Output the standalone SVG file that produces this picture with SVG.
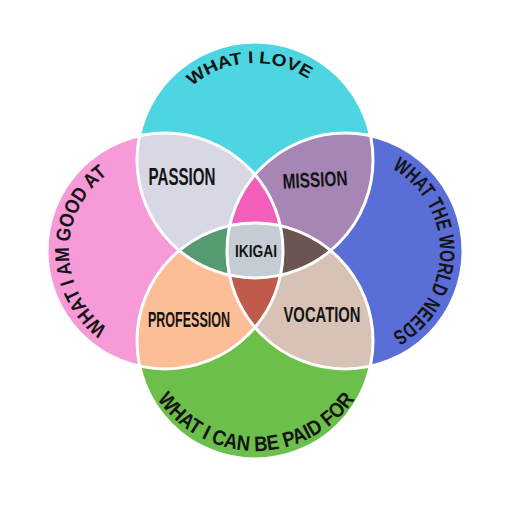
<svg xmlns="http://www.w3.org/2000/svg" xmlns:xlink="http://www.w3.org/1999/xlink" width="512" height="512" viewBox="0 0 512 512">
<style>
.lbl{font-family:"Liberation Sans","DejaVu Sans",sans-serif;font-weight:bold;fill:#141414;text-anchor:middle}
.edge{fill:none;stroke:#ffffff;stroke-width:3}
</style>
<defs>
<circle id="T" cx="255" cy="160" r="118"/>
<circle id="L" cx="165" cy="251" r="118"/>
<circle id="R" cx="345" cy="251" r="118"/>
<circle id="B" cx="255" cy="341" r="118"/>
<clipPath id="cT"><use xlink:href="#T"/></clipPath>
<clipPath id="cL"><use xlink:href="#L"/></clipPath>
<clipPath id="cR"><use xlink:href="#R"/></clipPath>
<clipPath id="cB"><use xlink:href="#B"/></clipPath>
<path id="pTop" d="M158,160 A97,97 0 0 1 352,160"/>
<path id="pLeft" d="M165,347 A96,96 0 0 1 165,155"/>
<path id="pRight" d="M345,156 A95,95 0 0 1 345,346"/>
<path id="pBot" d="M136,331 A120,120 0 0 0 376,331"/>
</defs>
<rect width="512" height="512" fill="#ffffff"/>

<g id="love"><use xlink:href="#T" fill="#4dd5e1"/></g>
<g id="good-at"><use xlink:href="#L" fill="#f79ad8"/></g>
<g id="world-needs"><use xlink:href="#R" fill="#5a6ed8"/></g>
<g id="paid-for"><use xlink:href="#B" fill="#6cbf4a"/></g>

<g id="passion" clip-path="url(#cT)"><use xlink:href="#L" fill="#d8d8e4"/></g>
<g id="mission" clip-path="url(#cT)"><use xlink:href="#R" fill="#a786b6"/></g>
<g id="profession" clip-path="url(#cB)"><use xlink:href="#L" fill="#fcbe97"/></g>
<g id="vocation" clip-path="url(#cB)"><use xlink:href="#R" fill="#d8c2b6"/></g>

<g id="tlr" clip-path="url(#cT)"><g clip-path="url(#cL)"><use xlink:href="#R" fill="#f35ebb"/></g></g>
<g id="tlb" clip-path="url(#cT)"><g clip-path="url(#cL)"><use xlink:href="#B" fill="#559a70"/></g></g>
<g id="trb" clip-path="url(#cT)"><g clip-path="url(#cR)"><use xlink:href="#B" fill="#6a5550"/></g></g>
<g id="lrb" clip-path="url(#cL)"><g clip-path="url(#cR)"><use xlink:href="#B" fill="#c05a4b"/></g></g>
<g id="ikigai" clip-path="url(#cT)"><g clip-path="url(#cL)"><g clip-path="url(#cR)"><use xlink:href="#B" fill="#c6ccd4"/></g></g></g>

<g id="outlines">
<use xlink:href="#T" class="edge"/>
<use xlink:href="#L" class="edge"/>
<use xlink:href="#R" class="edge"/>
<use xlink:href="#B" class="edge"/>
</g>

<g id="labels">
<text class="lbl" font-size="17"><textPath xlink:href="#pTop" startOffset="48%" textLength="125" lengthAdjust="spacingAndGlyphs">WHAT I LOVE</textPath></text>
<text class="lbl" font-size="20"><textPath xlink:href="#pLeft" startOffset="50%" textLength="178" lengthAdjust="spacingAndGlyphs">WHAT I AM GOOD AT</textPath></text>
<text class="lbl" font-size="21"><textPath xlink:href="#pRight" startOffset="50%" textLength="200" lengthAdjust="spacingAndGlyphs">WHAT THE WORLD NEEDS</textPath></text>
<text class="lbl" font-size="21"><textPath xlink:href="#pBot" startOffset="50%" textLength="232" lengthAdjust="spacingAndGlyphs">WHAT I CAN BE PAID FOR</textPath></text>
<text class="lbl" x="182" y="185" font-size="23" textLength="67" lengthAdjust="spacingAndGlyphs">PASSION</text>
<text class="lbl" x="315" y="187" font-size="21" textLength="65" lengthAdjust="spacingAndGlyphs" transform="rotate(-3 315 180)">MISSION</text>
<text class="lbl" x="256" y="257" font-size="16" textLength="42" lengthAdjust="spacingAndGlyphs">IKIGAI</text>
<text class="lbl" x="189" y="327" font-size="22" textLength="82" lengthAdjust="spacingAndGlyphs">PROFESSION</text>
<text class="lbl" x="322" y="322" font-size="22" textLength="77" lengthAdjust="spacingAndGlyphs">VOCATION</text>
</g>
</svg>
